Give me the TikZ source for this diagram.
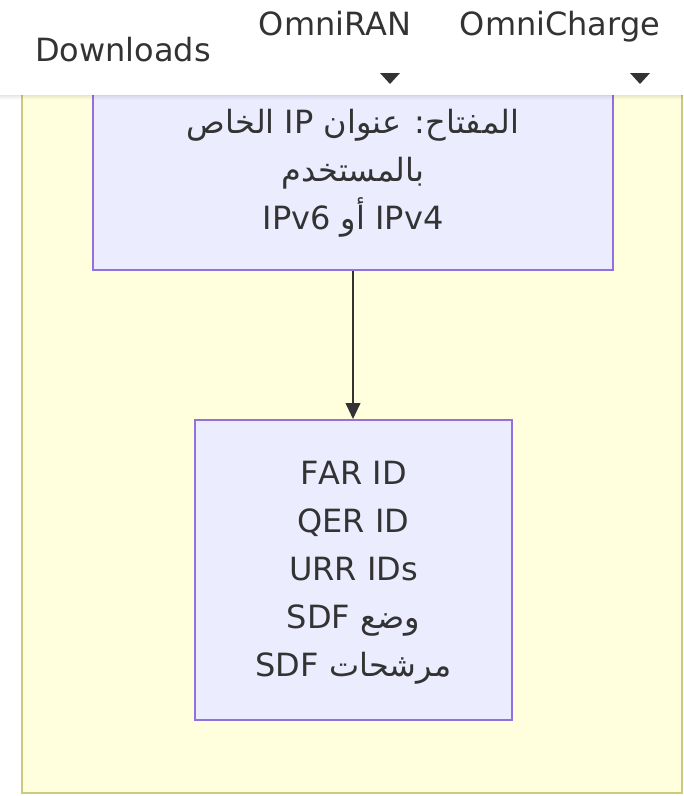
\documentclass[tikz,border=0pt]{standalone}
\usepackage{fontspec}
\setmainfont{DejaVu Sans}
\newfontfamily\arabicfont[Script=Arabic]{DejaVu Sans}
\TeXXeTstate=1
\usetikzlibrary{arrows.meta}
\definecolor{clusterfill}{HTML}{FFFFDE}
\definecolor{clusterline}{HTML}{CBCB80}
\definecolor{nodefill}{HTML}{ECECFF}
\definecolor{nodeline}{HTML}{9370DB}
\definecolor{ink}{HTML}{333333}
\tikzset{
  entity/.style={draw=nodeline, fill=nodefill, line width=1.5pt, inner sep=0pt},
  entitytext/.style={inner sep=0pt, align=center, text=ink,
    font=\arabicfont\fontsize{24}{36}\selectfont},
  link/.style={draw=ink, line width=1.5pt, -{Triangle[length=12pt,width=11pt]}},
  menuitem/.style={anchor=base, text=ink, inner sep=0pt, font=\fontsize{24}{28}\selectfont},
  menucaret/.style={fill=ink, draw=none}
}
\begin{document}
\begin{tikzpicture}[x=0.75pt, y=-0.75pt]
\useasboundingbox (0,0) rectangle (683,796);
\fill[white] (0,0) rectangle (683,796);

% cluster background
\draw[fill=clusterfill, draw=clusterline, line width=1.5pt] (22,40) rectangle (682,793);

% entities
\node[entity, minimum width=390pt, minimum height=150pt] (key) at (353,170) {};
\node[entitytext] (keytext) at (353,173)
  {\beginR المفتاح: عنوان IP الخاص\endR\\
   \beginR بالمستخدم\endR\\
   \beginR IPv4 أو IPv6\endR};
\node[entity, minimum width=237.75pt, minimum height=225pt] (ids) at (353.5,570) {};
\node[entitytext] (idstext) at (353.5,573)
  {FAR ID\\ QER ID\\ URR IDs\\
   \beginR وضع SDF\endR\\
   \beginR مرشحات SDF\endR};

\draw[link] (key.south -| 353,0) -- (ids.north -| 353,0);

% top navigation bar with a soft shadow
\foreach \i/\o in {0/0.10,1/0.07,2/0.05,3/0.03,4/0.015}
  \fill[black, opacity=\o] (0,95+\i) rectangle (683,96+\i);
\fill[white] (0,0) rectangle (683,95);

\node[menuitem] (dl) at (123,61) {Downloads};
\node[menuitem] (ran) at (335,35) {OmniRAN};
\node[menuitem] (chg) at (560,35) {OmniCharge};
\fill[menucaret] (380,73) -- (400,73) -- (390,84) -- cycle;
\fill[menucaret] (630,73) -- (650,73) -- (640,84) -- cycle;
\end{tikzpicture}
\end{document}
